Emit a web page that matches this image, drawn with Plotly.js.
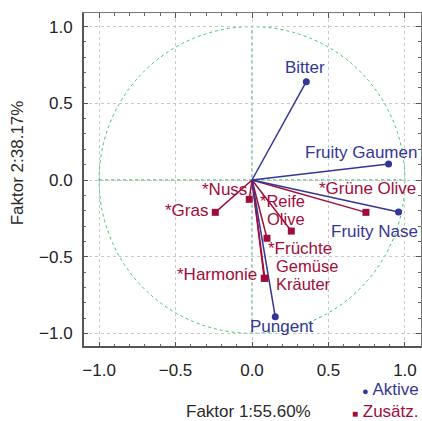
<!DOCTYPE html>
<html><head><meta charset="utf-8">
<script src="https://cdn.plot.ly/plotly-3.0.1.min.js"></script>
<style>html,body{margin:0;padding:0;background:#fff}</style>
</head><body><div id="chart" style="width:422px;height:421px"></div>
<script>
// Active variables
const activeNames = ["Bitter", "Fruity Gaumen", "Fruity Nase", "Pungent"];
const activeX = [0.355, 0.893, 0.958, 0.152];
const activeY = [0.641, 0.104, -0.209, -0.891];
// Supplementary variables
const suppNames = ["*Grüne Olive", "*Nuss", "*Gras", "*Reife\nOlive", "*Früchte", "Gemüse\nKräuter", "*Harmonie"];
const suppX = [0.745, -0.018, -0.240, 0.257, 0.098, 0.084, 0.080];
const suppY = [-0.211, -0.126, -0.211, -0.333, -0.380, -0.641, -0.641];
const xTitle = "Faktor 1:55.60%";
const yTitle = "Faktor 2:38.17%";
const legendLabels = ["Aktive", "Zusätz."];

const BLUE = "#353694", RED = "#a10c3c", GREEN = "#3cc870";
const FONT = "Liberation Sans, Arial, Helvetica, sans-serif";

// label placements (pixel offsets of first line centre, down positive)
const activePlace = [
  {anchor:"center", dx:-1.5, dy:-14},
  {anchor:"center", dx:-28, dy:-12},
  {anchor:"center", dx:-24, dy:19},
  {anchor:"center", dx:7, dy:10}
];
const suppPlace = [
  {anchor:"center", dx:1.6, dy:-24},
  {anchor:"center", dx:-24.5, dy:-10},
  {anchor:"center", dx:-29, dy:-2},
  {anchor:"right", dx:16, dy:-30},
  {anchor:"center", dx:33.3, dy:10},
  {anchor:"left", dx:9.5, dy:-12},
  {anchor:"right", dx:-5, dy:-3.5}
];
const LINEGAP = 18;

function rays(xs, ys) {
  const lx = [], ly = [];
  xs.forEach((x, i) => { lx.push(0, x, null); ly.push(0, ys[i], null); });
  return {x: lx, y: ly};
}
const ra = rays(activeX, activeY), rs = rays(suppX, suppY);

const traces = [
  {x: rs.x, y: rs.y, mode: "lines", line: {color: RED, width: 1.5}, hoverinfo: "skip"},
  {x: ra.x, y: ra.y, mode: "lines", line: {color: BLUE, width: 1.5}, hoverinfo: "skip"},
  {x: suppX, y: suppY, mode: "markers", marker: {symbol: "square", size: 7, color: RED}},
  {x: activeX, y: activeY, mode: "markers", marker: {symbol: "circle", size: 7, color: BLUE}}
];

const annotations = [];
function addLabels(names, xs, ys, place, color) {
  names.forEach((n, i) => {
    const p = place[i];
    const lines = n.split("\n");
    lines.forEach((line, k) => {
      annotations.push({
        x: xs[i], y: ys[i], xref: "x", yref: "y", text: line, showarrow: false,
        xanchor: p.anchor, yanchor: "middle",
        xshift: p.dx, yshift: -(p.dy + k * LINEGAP),
        font: {family: FONT, size: lines.length > 1 ? 16.5 : 17, color: color}
      });
    });
  });
}
addLabels(activeNames, activeX, activeY, activePlace, BLUE);
addLabels(suppNames, suppX, suppY, suppPlace, RED);

annotations.push({xref: "paper", yref: "paper", x: 0.49, y: 0, yanchor: "middle", xanchor: "center",
  yshift: -64, text: xTitle, showarrow: false, font: {family: FONT, size: 17, color: "#2a2a2a"}});
annotations.push({xref: "paper", yref: "paper", x: 0, xshift: -66, y: 0.55, textangle: -90,
  xanchor: "center", yanchor: "middle", text: yTitle, showarrow: false, font: {family: FONT, size: 17, color: "#2a2a2a"}});
annotations.push({xref: "paper", yref: "paper", x: 1, y: 0, xanchor: "right", yanchor: "middle", yshift: -42,
  text: '<span style="font-size:11px">●</span> ' + legendLabels[0], showarrow: false, font: {family: FONT, size: 17, color: BLUE}});
annotations.push({xref: "paper", yref: "paper", x: 1, y: 0, xanchor: "right", yanchor: "middle", yshift: -64,
  text: '<span style="font-size:10px">■</span> ' + legendLabels[1], showarrow: false, font: {family: FONT, size: 17, color: RED}});

const axisCommon = {
  dtick: 0.5, tick0: 0, ticks: "inside", ticklen: 5, tickcolor: "#555", tickwidth: 1,
  minor: {dtick: 0.1, ticks: "inside", ticklen: 3, tickcolor: "#666", showgrid: false},
  showgrid: true, gridcolor: "#c8c8c8", griddash: "dot", gridwidth: 1,
  zeroline: false, showline: true, linecolor: "#777", linewidth: 1, mirror: "allticks",
  tickformat: ".1f", tickfont: {family: FONT, size: 17, color: "#222"}
};

const shapes = [
  {type: "circle", xref: "x", yref: "y", x0: -1, x1: 1, y0: -1, y1: 1, line: {color: GREEN, width: 1, dash: "dot"}, layer: "below"},
  {type: "line", xref: "x", yref: "y", x0: -1, x1: 1, y0: 0, y1: 0, line: {color: "#1aa84a", width: 1, dash: "dot"}, layer: "below"},
  {type: "line", xref: "x", yref: "y", x0: 0, x1: 0, y0: -1, y1: 1, line: {color: "#1aa84a", width: 1, dash: "dot"}, layer: "below"},
  {type: "line", xref: "paper", yref: "paper", x0: 0, x1: 0, y0: 0, y1: 1, line: {color: "#555", width: 2}},
  {type: "line", xref: "paper", yref: "paper", x0: 0, x1: 1, y0: 0, y1: 0, line: {color: "#555", width: 2}}
];

const layout = {
  width: 422, height: 421,
  margin: {l: 83, r: 1, t: 13, b: 74},
  paper_bgcolor: "#fff", plot_bgcolor: "#fff",
  showlegend: false,
  xaxis: Object.assign({}, axisCommon, {range: [-1.105, 1.105], ticklabelstandoff: 8}),
  yaxis: Object.assign({}, axisCommon, {range: [-1.089, 1.089], ticklabelstandoff: 6}),
  shapes: shapes,
  annotations: annotations
};

Plotly.newPlot("chart", traces, layout, {displayModeBar: false, staticPlot: true});
</script></body></html>
